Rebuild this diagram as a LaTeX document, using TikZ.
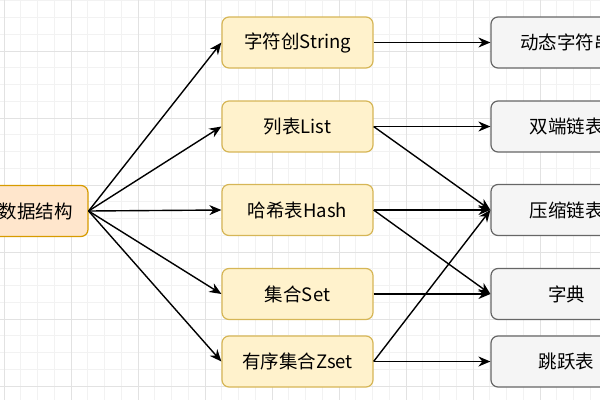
\documentclass[tikz,border=0pt]{standalone}
\usepackage{fontspec}
\setmainfont{Noto Sans CJK SC}
\definecolor{ylfill}{HTML}{FFF2CC}
\definecolor{yldraw}{HTML}{D6B656}
\definecolor{orfill}{HTML}{FFE6CC}
\definecolor{ordraw}{HTML}{D79B00}
\definecolor{gyfill}{HTML}{F5F5F5}
\definecolor{gydraw}{HTML}{666666}
\definecolor{gminor}{HTML}{F2F2F2}
\definecolor{gmajor}{HTML}{E2E2E2}
\usetikzlibrary{arrows.meta}

\begin{document}
\begin{tikzpicture}[x=1pt,y=-1pt,
	box/.style={rounded corners=7pt,line width=1.2pt,minimum width=151pt,
		minimum height=51pt,inner sep=0pt,font=\fontsize{18.5}{18.5}\selectfont},
	typebox/.style={box,draw=yldraw,fill=ylfill},
	rootbox/.style={box,draw=ordraw,fill=orfill},
	implbox/.style={box,draw=gydraw,fill=gyfill},
	link/.style={line width=1.4pt,-{Stealth[length=12pt,width=10pt]}}]
	\useasboundingbox (0,0) rectangle (600,400);
	\clip (0,0) rectangle (600,400);
	%grid
	\foreach \i in {0,...,36}
	\draw[gminor,line width=0.6pt] (4+\i*16.75,0) -- (4+\i*16.75,400);
	\foreach \i in {0,...,25}
	\draw[gminor,line width=0.6pt] (0,0.75+\i*16.75) -- (600,0.75+\i*16.75);
	\foreach \i in {0,...,9}
	\draw[gmajor,line width=0.8pt] (4+\i*67,0) -- (4+\i*67,400);
	\foreach \i in {0,...,6}
	\draw[gmajor,line width=0.8pt] (0,-16+\i*67) -- (600,-16+\i*67);
	%boxes
	\node[rootbox,text width=121pt,align=right] (ds) at (12.5,211) {数据结构};
	\node[typebox] (str) at (297.5,42.5) {字符创String};
	\node[typebox] (lst) at (297.5,126.5) {列表List};
	\node[typebox] (hsh) at (297.5,210) {哈希表Hash};
	\node[typebox] (set) at (297.5,294) {集合Set};
	\node[typebox] (zst) at (297.5,361.5) {有序集合Zset};
	\node[implbox] (sds) at (566.5,42.5) {动态字符串};
	\node[implbox] (dlk) at (566.5,126.5) {双端链表};
	\node[implbox] (zip) at (566.5,210) {压缩链表};
	\node[implbox] (dct) at (566.5,294) {字典};
	\node[implbox] (skl) at (566.5,361.5) {跳跃表};
	%links
	\foreach \t in {str,lst,hsh,set,zst}
	\draw[link] (ds.east) -- (\t.west);
	\draw[link] (str.east) -- (sds.west);
	\draw[link] (lst.east) -- (dlk.west);
	\draw[link] (lst.east) -- (zip.west);
	\draw[link] (hsh.east) -- (zip.west);
	\draw[link] (hsh.east) -- (dct.west);
	\draw[link] (set.east) -- (dct.west);
	\draw[link] (zst.east) -- (zip.west);
	\draw[link] (zst.east) -- (skl.west);
\end{tikzpicture}
\end{document}
